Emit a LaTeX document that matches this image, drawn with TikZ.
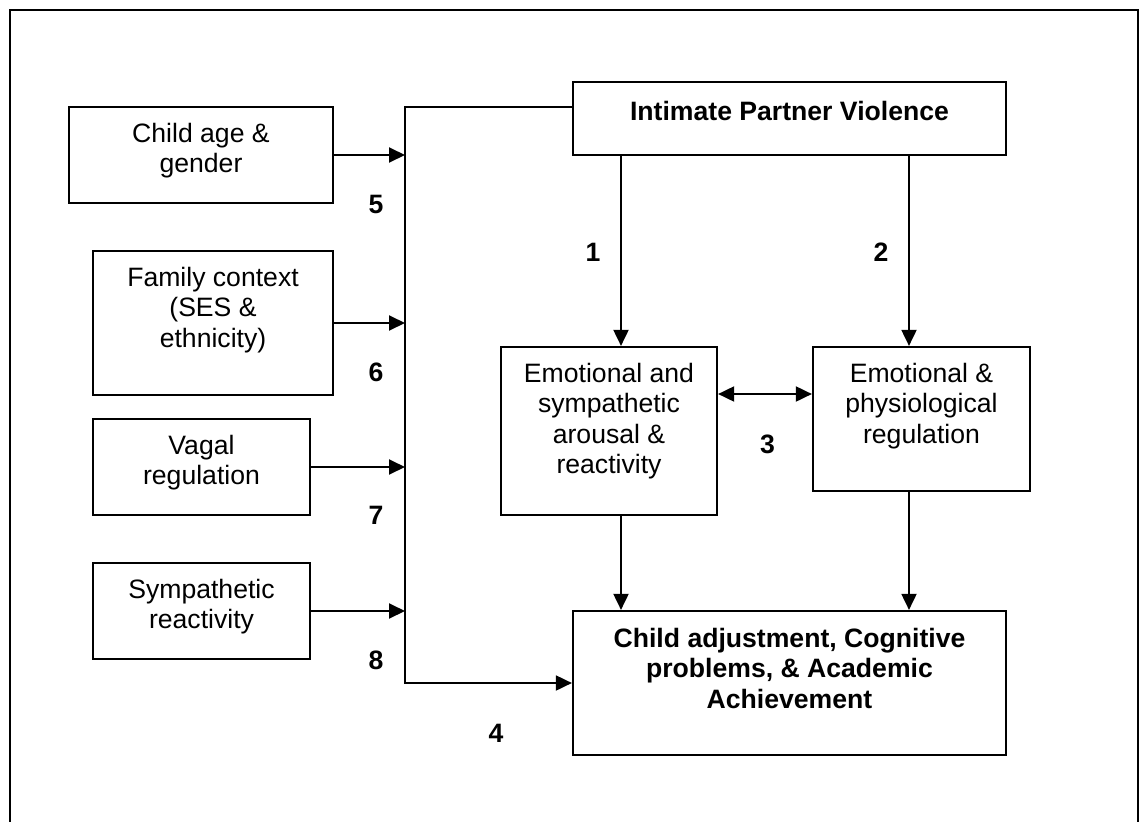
\documentclass[tikz,border=0pt]{standalone}
\usepackage{fontspec}
\setmainfont{Liberation Sans}
\usetikzlibrary{arrows.meta}
\newcommand{\bodysize}{\fontsize{26.6pt}{30.5pt}\selectfont}
\tikzset{
  box/.style={draw, line width=2.2pt, inner sep=0pt},
  txt/.style={align=center, anchor=base, inner sep=0pt, font=\bodysize},
  btxt/.style={align=center, anchor=base, inner sep=0pt, font=\bodysize\bfseries},
  num/.style={anchor=base, inner sep=0pt, font=\bodysize\bfseries},
  conn/.style={line width=1.9pt},
  arr/.style={conn, -{Triangle[length=16pt,width=15pt]}},
  arrtwo/.style={conn, {Triangle[length=16pt,width=15pt]}-{Triangle[length=16pt,width=15pt]}},
}
\begin{document}
\begin{tikzpicture}[x=1pt, y=-1pt]
\useasboundingbox (0,0) rectangle (1141,822);
% outer frame
\draw[line width=2pt] (9.5,830) -- (9.5,10) -- (1138,10) -- (1138,830);

% boxes
\node[box, minimum width=264pt, minimum height=96pt] (cag) at (201,155) {};
\node[box, minimum width=240pt, minimum height=144pt] (fam) at (213,323) {};
\node[box, minimum width=217pt, minimum height=96pt] (vag) at (201.5,467) {};
\node[box, minimum width=217pt, minimum height=96pt] (sym) at (201.5,611) {};
\node[box, minimum width=433pt, minimum height=73pt] (ipv) at (789.5,118.5) {};
\node[box, minimum width=216pt, minimum height=168pt] (esa) at (609,431) {};
\node[box, minimum width=217pt, minimum height=144pt] (epr) at (921.5,419) {};
\node[box, minimum width=433pt, minimum height=144pt] (cad) at (789.5,683) {};

% box texts (anchored at the baseline of the last line)
\node[txt] (cagt) at (201,172.5) {Child age \&\\gender};
\node[txt] (famt) at (213,347) {Family context\\(SES \&\\ethnicity)};
\node[txt] (vagt) at (201.5,484.5) {Vagal\\regulation};
\node[txt] (symt) at (201.5,628.5) {Sympathetic\\reactivity};
\node[btxt] (ipvt) at (789.5,120) {Intimate Partner Violence};
\node[txt] (esat) at (609,473.5) {Emotional and\\sympathetic\\arousal \&\\reactivity};
\node[txt] (eprt) at (921.5,443) {Emotional \&\\physiological\\regulation};
\node[btxt] (cadt) at (789.5,708) {Child adjustment, Cognitive\\problems, \& Academic\\Achievement};

% helper coordinates
\coordinate (bt) at (405,107);
\coordinate (bb) at (405,683);
\coordinate (c1) at (621,250);
\coordinate (c2) at (909,250);
\coordinate (c3) at (760,394);

% bus from IPV to outcome
\draw[arr] ([yshift=11.5pt]ipv.west) -- (bt) -- (bb) -- (cad.west);
% moderators into bus
\draw[arr] (cag.east) -- (cag.east -| bt);
\draw[arr] (fam.east) -- (fam.east -| bt);
\draw[arr] (vag.east) -- (vag.east -| bt);
\draw[arr] (sym.east) -- (sym.east -| bt);
% IPV to mediators
\draw[arr] (c1 |- ipv.south) -- (c1 |- esa.north);
\draw[arr] (c2 |- ipv.south) -- (c2 |- epr.north);
% mediators to outcome
\draw[arr] (c1 |- esa.south) -- (c1 |- cad.north);
\draw[arr] (c2 |- epr.south) -- (c2 |- cad.north);
% between mediators
\draw[arrtwo] (esa.east |- c3) -- (epr.west |- c3);

% path numbers
\node[num] (n1) at (593,261) {1};
\node[num] (n2) at (881,261) {2};
\node[num] (n3) at (767.5,453) {3};
\node[num] (n4) at (496,742) {4};
\node[num] (n5) at (376,213) {5};
\node[num] (n6) at (376,381) {6};
\node[num] (n7) at (376,524) {7};
\node[num] (n8) at (376,669) {8};
\end{tikzpicture}
\end{document}
